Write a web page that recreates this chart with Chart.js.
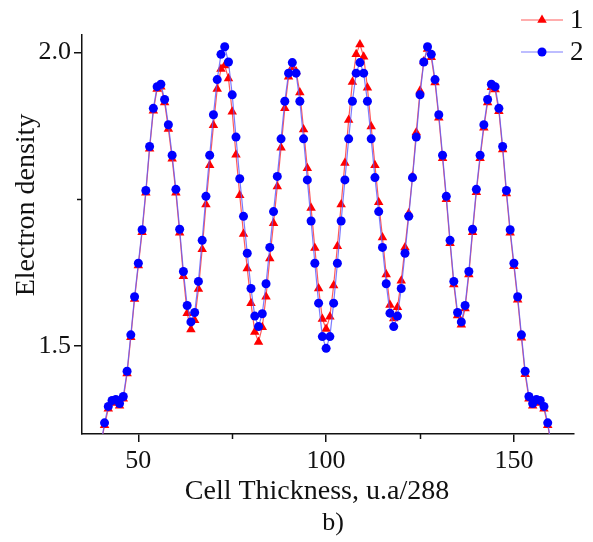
<!DOCTYPE html>
<html>
<head>
<meta charset="utf-8">
<script src="https://cdn.jsdelivr.net/npm/chart.js@4.4.1/dist/chart.umd.min.js"></script>
<style>
  html, body { margin: 0; padding: 0; background: #fff; }
  canvas { display: block; }
</style>
</head>
<body>
<canvas id="myChart" width="593" height="542"></canvas>
<script>
// cell thickness (u.a/288)
const thickness = [40,
  41, 42, 43, 44, 45, 46, 47, 48, 49, 50,
  51, 52, 53, 54, 55, 56, 57, 58, 59, 60,
  61, 62, 63, 64, 65, 66, 67, 68, 69, 70,
  71, 72, 73, 74, 75, 76, 77, 78, 79, 80,
  81, 82, 83, 84, 85, 86, 87, 88, 89, 90,
  91, 92, 93, 94, 95, 96, 97, 98, 99, 100,
  101, 102, 103, 104, 105, 106, 107, 108, 109, 110,
  111, 112, 113, 114, 115, 116, 117, 118, 119, 120,
  121, 122, 123, 124, 125, 126, 127, 128, 129, 130,
  131, 132, 133, 134, 135, 136, 137, 138, 139, 140,
  141, 142, 143, 144, 145, 146, 147, 148, 149, 150,
  151, 152, 153, 154, 155, 156, 157, 158, 159, 160];

// curve 1 (red triangles)
const density1 = [1.33,
  1.365, 1.393, 1.403, 1.405, 1.398, 1.410, 1.453, 1.515, 1.580, 1.637,
  1.694, 1.761, 1.836, 1.901, 1.938, 1.942, 1.915, 1.870, 1.819, 1.761,
  1.693, 1.619, 1.556, 1.528, 1.544, 1.597, 1.665, 1.741, 1.808, 1.876,
  1.938, 1.972, 1.978, 1.956, 1.899, 1.826, 1.757, 1.691, 1.632, 1.573,
  1.524, 1.507, 1.532, 1.584, 1.649, 1.709, 1.772, 1.838, 1.905, 1.959,
  1.975, 1.968, 1.932, 1.869, 1.803, 1.735, 1.667, 1.598, 1.546, 1.529,
  1.550, 1.603, 1.670, 1.741, 1.812, 1.885, 1.950, 1.997, 2.014, 1.993,
  1.940, 1.874, 1.808, 1.745, 1.685, 1.622, 1.570, 1.547, 1.566, 1.611,
  1.668, 1.726, 1.789, 1.864, 1.935, 1.985, 2.006, 1.992, 1.949, 1.889,
  1.820, 1.750, 1.675, 1.605, 1.552, 1.536, 1.564, 1.622, 1.694, 1.762,
  1.820, 1.872, 1.915, 1.941, 1.937, 1.900, 1.835, 1.760, 1.693, 1.636,
  1.579, 1.514, 1.452, 1.410, 1.398, 1.405, 1.403, 1.393, 1.365, 1.33];

// curve 2 (blue circles)
const density2 = [1.33,
  1.369, 1.397, 1.407, 1.409, 1.402, 1.414, 1.457, 1.519, 1.584, 1.641,
  1.698, 1.765, 1.840, 1.905, 1.942, 1.946, 1.920, 1.877, 1.825, 1.767,
  1.699, 1.627, 1.569, 1.541, 1.557, 1.610, 1.680, 1.755, 1.825, 1.894,
  1.954, 1.997, 2.010, 1.984, 1.928, 1.856, 1.785, 1.721, 1.658, 1.598,
  1.551, 1.533, 1.555, 1.606, 1.668, 1.729, 1.789, 1.853, 1.917, 1.965,
  1.983, 1.965, 1.917, 1.853, 1.783, 1.713, 1.641, 1.573, 1.516, 1.496,
  1.516, 1.573, 1.641, 1.713, 1.783, 1.853, 1.917, 1.965, 1.983, 1.965,
  1.917, 1.853, 1.787, 1.729, 1.668, 1.606, 1.556, 1.533, 1.551, 1.598,
  1.658, 1.721, 1.787, 1.856, 1.928, 1.984, 2.010, 1.997, 1.954, 1.894,
  1.825, 1.755, 1.680, 1.610, 1.557, 1.541, 1.569, 1.627, 1.699, 1.767,
  1.825, 1.877, 1.920, 1.946, 1.942, 1.905, 1.840, 1.765, 1.698, 1.641,
  1.584, 1.519, 1.457, 1.414, 1.402, 1.409, 1.407, 1.397, 1.369, 1.33];

const seriesNames = ['1', '2'];
const xTicks = [50, 100, 150];
const xMinorTicks = [75, 125];
const yTicks = [1.5, 2.0];
const yMinorTicks = [1.75];
const xTitle = 'Cell Thickness, u.a/288';
const yTitle = 'Electron density';
const caption = 'b)';

const serif = '"Liberation Serif", "Times New Roman", serif';
const ink = '#111';

function toPoints(ys) {
    return thickness.map((x, i) => ({ x: x, y: ys[i] }));
}

// minor ticks, axis titles, caption and legend
const decorations = {
    id: 'decorations',
    afterDraw(chart) {
        const ctx = chart.ctx;
        const sx = chart.scales.x;
        const sy = chart.scales.y;
        ctx.save();
        ctx.strokeStyle = ink;
        ctx.lineWidth = 1.5;
        xMinorTicks.forEach(v => {
            const px = Math.round(sx.getPixelForValue(v)) + 0.5;
            ctx.beginPath();
            ctx.moveTo(px, sx.top);
            ctx.lineTo(px, sx.top + 5);
            ctx.stroke();
        });
        yMinorTicks.forEach(v => {
            const py = Math.round(sy.getPixelForValue(v)) + 0.5;
            ctx.beginPath();
            ctx.moveTo(sy.right, py);
            ctx.lineTo(sy.right - 5, py);
            ctx.stroke();
        });

        ctx.fillStyle = ink;
        ctx.font = '28px ' + serif;
        ctx.textAlign = 'center';
        ctx.textBaseline = 'middle';
        ctx.fillText(xTitle, 317, 492);
        ctx.font = '26px ' + serif;
        ctx.fillText(caption, 333, 523);

        ctx.save();
        ctx.translate(27, 205);
        ctx.rotate(-Math.PI / 2);
        ctx.font = '28px ' + serif;
        ctx.fillText(yTitle, 0, 0);
        ctx.restore();

        // legend
        chart.data.datasets.slice().sort((a, b) => a.legendRow - b.legendRow).forEach((ds, i) => {
            const ly = 20 + i * 32;
            ctx.strokeStyle = ds.borderColor;
            ctx.lineWidth = 1.2;
            ctx.beginPath();
            ctx.moveTo(521, ly);
            ctx.lineTo(563, ly);
            ctx.stroke();
            ctx.fillStyle = ds.pointBackgroundColor;
            ctx.strokeStyle = ds.pointBackgroundColor;
            Chart.helpers.drawPoint(ctx, {
                pointStyle: ds.pointStyle,
                radius: ds.pointRadius,
                rotation: 0,
                borderWidth: 0
            }, 542, ly);
            ctx.fillStyle = ink;
            ctx.font = '27px ' + serif;
            ctx.textAlign = 'left';
            ctx.textBaseline = 'middle';
            ctx.fillText(ds.label, 570, ly + 1);
        });
        ctx.restore();
    }
};

new Chart(document.getElementById('myChart'), {
    type: 'line',
    data: {
        datasets: [{
            label: seriesNames[1],
            legendRow: 1,
            data: toPoints(density2),
            borderColor: 'rgba(90, 90, 255, 0.8)',
            borderWidth: 1.2,
            pointStyle: 'circle',
            pointRadius: 4.5,
            pointBackgroundColor: '#0000ff',
            pointBorderWidth: 0,
            tension: 0,
            order: 0
        }, {
            label: seriesNames[0],
            legendRow: 0,
            data: toPoints(density1),
            borderColor: 'rgba(255, 50, 50, 0.8)',
            borderWidth: 1.2,
            pointStyle: 'triangle',
            pointRadius: 5.5,
            pointBackgroundColor: '#ff0000',
            pointBorderWidth: 0,
            tension: 0,
            order: 1
        }]
    },
    options: {
        responsive: false,
        animation: false,
        layout: { padding: { top: 35, right: 19, left: 0, bottom: 0 } },
        plugins: {
            legend: { display: false },
            tooltip: { enabled: false }
        },
        scales: {
            x: {
                type: 'linear',
                min: 35,
                max: 166,
                afterBuildTicks: s => { s.ticks = xTicks.map(v => ({ value: v })); },
                afterFit: s => { s.height = 108; },
                grid: { display: true, drawOnChartArea: false, drawTicks: true, tickLength: 8, color: ink, lineWidth: 1.5 },
                border: { display: true, color: ink, width: 1.5 },
                ticks: {
                    color: ink,
                    padding: 4,
                    maxRotation: 0,
                    font: { family: serif, size: 26 },
                    callback: v => String(v)
                }
            },
            y: {
                type: 'linear',
                min: 1.35,
                max: 2.03,
                afterBuildTicks: s => { s.ticks = yTicks.map(v => ({ value: v })); },
                afterFit: s => { s.width = 82; },
                grid: { display: true, drawOnChartArea: false, drawTicks: true, tickLength: 8, color: ink, lineWidth: 1.5 },
                border: { display: true, color: ink, width: 1.5 },
                ticks: {
                    color: ink,
                    padding: 3,
                    font: { family: serif, size: 26 },
                    callback: v => v.toFixed(1)
                }
            }
        }
    },
    plugins: [decorations]
});
</script>
</body>
</html>
